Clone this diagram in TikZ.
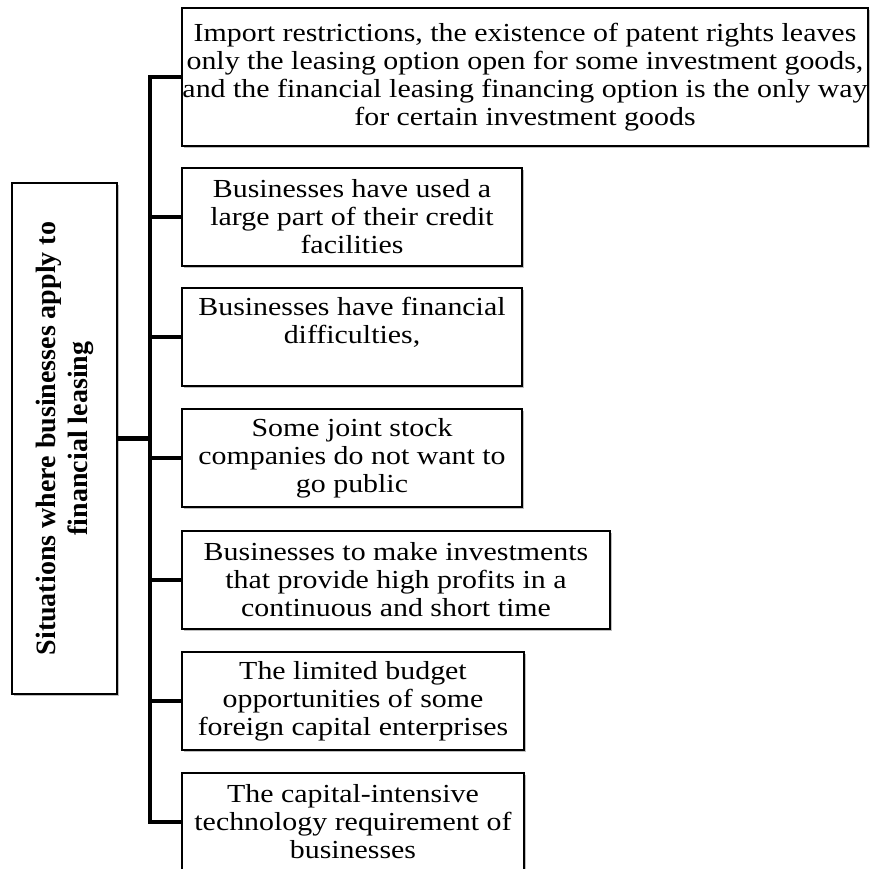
\documentclass[tikz,border=0pt]{standalone}
\usepackage{fontspec}
\setmainfont{Liberation Serif}
\newfontfamily\boxfont{Liberation Serif}[FakeStretch=1.15]
\usetikzlibrary{shadows}
\begin{document}
\begin{tikzpicture}[x=1pt,y=-1pt,
  item/.style={draw=black, line width=1.5pt, fill=white, inner sep=0pt, align=center,
    font=\boxfont\fontsize{26}{28}\selectfont,
    drop shadow={shadow xshift=1.5pt, shadow yshift=-1.8pt, fill=black!50}},
  rootbox/.style={item, rotate=90, font=\bfseries\fontsize{28}{32}\selectfont},
  conn/.style={line width=4.3pt}]
\useasboundingbox[fill=white] (0,0) rectangle (869,869);
\coordinate (tx) at (150,0);
\node[rootbox, minimum width=511pt, minimum height=105pt] (root) at (64.5,438.5)
  {Situations where businesses apply to\\ financial leasing};
\node[item, minimum width=686pt, minimum height=138pt] (b1) at (525,77)
  {Import restrictions, the existence of patent rights leaves\\ only the leasing option open for some investment goods,\\ and the financial leasing financing option is the only way\\ for certain investment goods};
\node[item, minimum width=340pt, minimum height=98pt] (b2) at (352,217)
  {Businesses have used a\\ large part of their credit\\ facilities};
\node[item, minimum width=340pt, minimum height=98pt] (b3) at (352,337)
  {Businesses have financial\\ difficulties,\\ \vphantom{g}};
\node[item, minimum width=340pt, minimum height=98pt] (b4) at (352,458)
  {Some joint stock\\ companies do not want to\\ go public};
\node[item, minimum width=428pt, minimum height=98pt] (b5) at (396,580)
  {Businesses to make investments\\ that provide high profits in a\\ continuous and short time};
\node[item, minimum width=342pt, minimum height=98pt] (b6) at (353,701)
  {The limited budget\\ opportunities of some\\ foreign capital enterprises};
\node[item, minimum width=342pt, minimum height=98pt] (b7) at (353,822)
  {The capital-intensive\\ technology requirement of\\ businesses};
\draw[conn] (b1.west) -- (b1.west -| tx) -- (b7.west -| tx) -- (b7.west);
\foreach \b in {b2,b3,b4,b5,b6} \draw[conn] (\b.west) -- (\b.west -| tx);
\draw[conn] (root.south) -- (root.south -| tx);
\end{tikzpicture}
\end{document}
